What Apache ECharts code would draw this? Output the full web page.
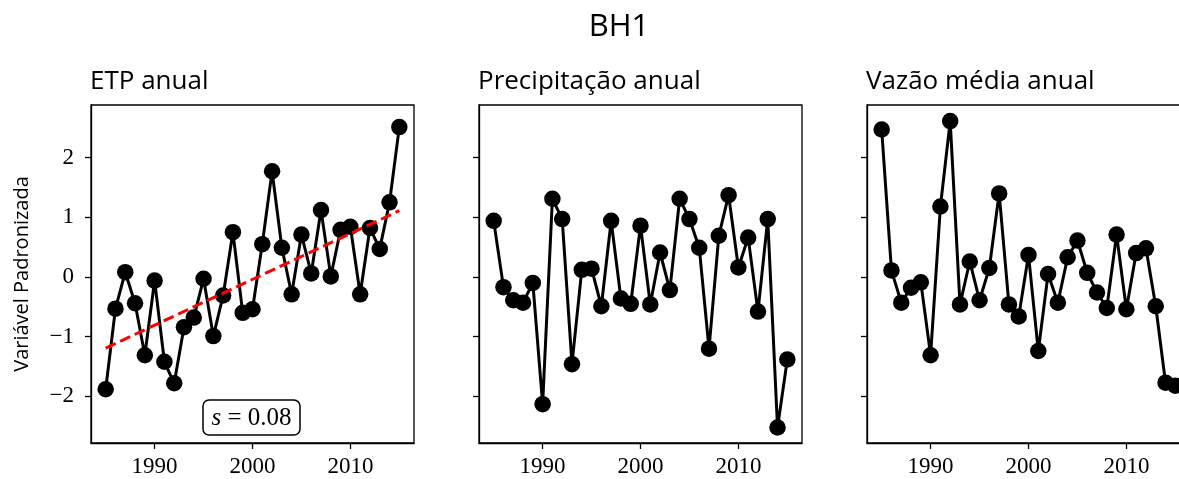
<!DOCTYPE html>
<html>
<head>
<meta charset="utf-8">
<script src="https://cdn.jsdelivr.net/npm/echarts@6/dist/echarts.min.js"></script>
<style>
  html, body { margin: 0; padding: 0; background: #fff; overflow: hidden; }
  #chart { width: 1200px; height: 479px; }
</style>
</head>
<body>
<div id="chart"></div>
<script>
// data
const years = [1985, 1986, 1987, 1988, 1989, 1990, 1991, 1992, 1993, 1994, 1995, 1996, 1997, 1998, 1999, 2000,
  2001, 2002, 2003, 2004, 2005, 2006, 2007, 2008, 2009, 2010, 2011, 2012, 2013, 2014, 2015];
const etp = [-1.88, -0.53, 0.08, -0.44, -1.31, -0.06, -1.42, -1.78, -0.84, -0.68, -0.03, -0.99, -0.31, 0.75, -0.60, -0.54,
  0.55, 1.77, 0.49, -0.29, 0.71, 0.06, 1.12, 0.01, 0.79, 0.84, -0.29, 0.82, 0.47, 1.25, 2.51];
const precip = [0.94, -0.17, -0.39, -0.43, -0.10, -2.13, 1.31, 0.97, -1.46, 0.12, 0.14, -0.49, 0.94, -0.36, -0.45, 0.86,
  -0.46, 0.41, -0.22, 1.31, 0.97, 0.49, -1.20, 0.69, 1.37, 0.16, 0.66, -0.58, 0.97, -2.52, -1.38];
const vazao = [2.47, 0.11, -0.43, -0.18, -0.09, -1.31, 1.18, 2.61, -0.46, 0.26, -0.39, 0.15, 1.40, -0.46, -0.66, 0.37,
  -1.24, 0.05, -0.43, 0.33, 0.61, 0.07, -0.26, -0.52, 0.71, -0.54, 0.40, 0.48, -0.49, -1.77, -1.82];
// linear trend of ETP (end points)
const trendYears = [1985, 2015];
const trendValues = [-1.19, 1.11];
const slopeText = "0.08";

const panelTitles = ["ETP anual", "Precipitação anual", "Vazão média anual"];
const xTicks = [1990, 2000, 2010];
const yTicks = [-2, -1, 0, 1, 2];

const chart = echarts.init(document.getElementById("chart"));

const gridLefts = [91, 479, 867];
const serif = "'Liberation Serif', 'DejaVu Serif', serif";
const sans = "'Open Sans', 'DejaVu Sans', sans-serif";

function pairs(xs, ys) {
  return xs.map((x, i) => [x, ys[i]]);
}

const grids = gridLefts.map((left) => ({
  left: left,
  top: 105,
  width: 323,
  height: 338,
  show: true,
  borderColor: "#000",
  borderWidth: 1.3,
  backgroundColor: "#fff",
}));

const xAxes = gridLefts.map((l, i) => ({
  type: "value",
  gridIndex: i,
  min: 1983.5,
  max: 2016.5,
  splitLine: { show: false },
  axisLine: { show: true, onZero: false, lineStyle: { color: "#000", width: 1.3 } },
  axisTick: { show: true, length: 6, customValues: xTicks, lineStyle: { color: "#000", width: 1.3 } },
  axisLabel: {
    customValues: xTicks,
    margin: 12,
    color: "#000",
    fontFamily: serif,
    fontSize: 23,
    formatter: (v) => String(v),
  },
}));

const yAxes = gridLefts.map((l, i) => ({
  type: "value",
  gridIndex: i,
  min: -2.78,
  max: 2.88,
  name: i === 0 ? "Variável Padronizada" : "",
  nameLocation: "middle",
  nameGap: 59,
  nameTextStyle: { fontFamily: sans, fontSize: 20, color: "#000" },
  splitLine: { show: false },
  axisLine: { show: true, onZero: false, lineStyle: { color: "#000", width: 1.3 } },
  axisTick: { show: true, length: 6, customValues: yTicks, lineStyle: { color: "#000", width: 1.3 } },
  axisLabel: {
    show: i === 0,
    customValues: yTicks,
    margin: 17,
    color: "#000",
    fontFamily: serif,
    fontSize: 23,
    formatter: (v) => (v < 0 ? "\u2212" + Math.abs(v) : String(v)),
  },
}));

function dataSeries(values, i) {
  return {
    type: "line",
    xAxisIndex: i,
    yAxisIndex: i,
    data: pairs(years, values),
    symbol: "circle",
    symbolSize: 16.5,
    itemStyle: { color: "#000" },
    lineStyle: { color: "#000", width: 3 },
    z: 3,
  };
}

const series = [
  dataSeries(etp, 0),
  dataSeries(precip, 1),
  dataSeries(vazao, 2),
  {
    type: "line",
    xAxisIndex: 0,
    yAxisIndex: 0,
    data: pairs(trendYears, trendValues),
    symbol: "none",
    lineStyle: { color: "#ff0000", width: 3, type: [11, 5] },
    z: 4,
  },
];

const graphic = [
  {
    type: "text",
    x: 619,
    y: 27,
    style: { text: "BH1", font: "31px " + sans, fill: "#000", textAlign: "center", textVerticalAlign: "middle" },
  },
].concat(
  panelTitles.map((t, i) => ({
    type: "text",
    x: gridLefts[i] - 1,
    y: 82,
    style: { text: t, font: "26px " + sans, fill: "#000", textAlign: "left", textVerticalAlign: "middle" },
  }))
).concat([
  {
    type: "rect",
    shape: { x: 203, y: 400, width: 97, height: 35, r: 6 },
    style: { fill: "#fff", stroke: "#000", lineWidth: 1.5 },
    z: 10,
  },
  {
    type: "text",
    x: 251.5,
    y: 418,
    z: 11,
    style: {
      text: "{i|s} = " + slopeText,
      textAlign: "center",
      textVerticalAlign: "middle",
      rich: {
        i: { fontFamily: serif, fontStyle: "italic", fontSize: 25, fill: "#000" },
      },
      font: "25px " + serif,
      fill: "#000",
    },
  },
]);

chart.setOption({
  animation: false,
  backgroundColor: "#fff",
  grid: grids,
  xAxis: xAxes,
  yAxis: yAxes,
  series: series,
  graphic: graphic,
});
</script>
</body>
</html>
